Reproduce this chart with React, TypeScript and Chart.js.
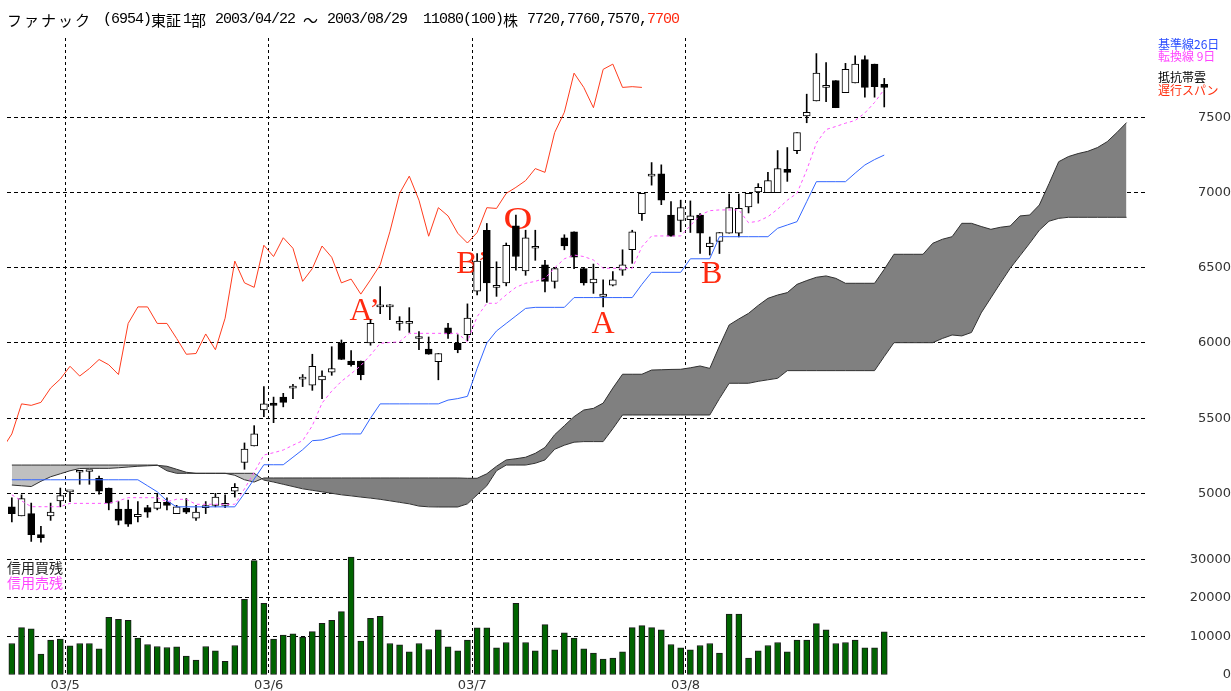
import React, { useEffect, useRef } from 'react';
import { Chart, registerables } from 'chart.js';
Chart.register(...registerables);

// ---- data (index 0 = 2003/04/22 ... index 90 = 2003/08/29) ----
const opens = [4910,4850,4865,4725,4850,4950,5010,5140,5145,5100,5035,4895,4895,4845,4905,4900,4940,4865,4900,4835,4905,4920,4920,5015,5205,5315,5555,5600,5640,5700,5760,5720,5755,5805,6000,5880,5880,6000,6240,6240,6130,6130,6030,5960,5875,6100,6000,6055,6345,6750,6370,6400,6780,6480,6630,6520,6410,6700,6740,6495,6400,6310,6385,6485,6620,6860,7110,7125,6850,6815,6820,6850,6640,6675,6730,6730,6905,7005,7000,7000,7155,7280,7510,7610,7700,7745,7665,7730,7885,7855,7720];
const highs = [4970,4990,4935,4780,4935,5035,5010,5150,5145,5115,5035,4945,4955,4945,4920,5000,4970,4920,4965,4920,4945,5000,4990,5065,5335,5450,5710,5640,5665,5725,5790,5925,5815,5975,6020,5950,5880,6155,6375,6255,6175,6235,6075,6040,5930,6130,6055,6260,6595,6795,6540,6665,6850,6750,6750,6550,6500,6720,6740,6500,6525,6420,6475,6620,6750,6995,7200,7185,6940,6950,6945,6860,6705,6735,6990,6990,6995,7060,7135,7280,7300,7400,7655,7925,7865,7745,7860,7910,7910,7855,7760];
const lows = [4810,4850,4680,4675,4820,4910,4945,5060,5060,4995,4890,4790,4780,4810,4840,4890,4890,4865,4865,4820,4865,4910,4905,4975,5160,5315,5510,5470,5575,5630,5710,5685,5630,5785,5890,5845,5755,5985,6195,6155,6085,6070,5955,5925,5755,6030,5935,6015,6320,6270,6310,6380,6485,6450,6550,6340,6365,6620,6495,6385,6330,6240,6380,6450,6530,6815,7050,6920,6710,6740,6735,6595,6585,6595,6730,6705,6865,6930,7000,7000,7075,7260,7465,7610,7605,7565,7665,7730,7635,7635,7570];
const closes = [4865,4965,4725,4705,4875,4985,5010,5140,5145,5015,4935,4820,4795,4860,4875,4940,4920,4910,4875,4875,4905,4975,4920,5040,5295,5395,5595,5585,5605,5700,5760,5845,5780,5830,5890,5855,5790,6130,6240,6240,6130,6130,6030,5925,5930,6060,5955,6165,6545,6400,6370,6650,6575,6700,6630,6410,6495,6645,6570,6400,6425,6325,6420,6520,6740,6995,7110,6950,6710,6900,6845,6730,6665,6735,6900,6895,6995,7035,7080,7160,7135,7400,7535,7795,7700,7565,7820,7855,7700,7705,7700];
const volumes = [8190,12300,11970,5430,9040,9300,7580,8190,8190,6800,14990,14470,14210,9560,7930,7410,7150,7320,4910,3880,7410,6290,3530,7670,19640,29700,18600,9300,10340,10680,9820,11280,13440,14210,16450,30660,8790,14730,15250,8190,7840,6030,8190,6630,11710,7320,6290,9040,12220,12220,7060,8440,18600,8440,6290,13090,6550,10940,9560,6800,5680,4130,4390,6030,12300,12840,12300,11710,7930,7060,6550,7670,8190,5680,15850,15850,4390,6290,7670,8440,6030,9040,9040,13350,11710,8190,8440,9040,7060,7060,11190];
const kijun = [5090,5090,5090,5090,5090,5090,5090,5090,5090,5090,5090,5090,5090,5090,5050,5010,4950,4910,4910,4910,4910,4910,4910,4910,5000,5095,5190,5190,5190,5240,5290,5350,5355,5375,5395,5395,5395,5500,5595,5595,5595,5595,5595,5595,5595,5620,5630,5645,5830,6000,6080,6130,6180,6230,6237,6237,6237,6237,6302,6302,6302,6302,6302,6302,6302,6390,6470,6470,6470,6470,6560,6560,6560,6707,6707,6707,6707,6707,6707,6763,6785,6807,6940,7073,7073,7073,7073,7130,7184,7220,7250];
const tenkan = [4990,4950,4911,4911,4911,4911,4933,4933,4933,4933,4933,4950,4971,4971,4971,4971,4944,4960,4960,4927,4927,4927,4927,4927,5030,5140,5255,5270,5288,5320,5350,5450,5600,5680,5745,5795,5850,5920,5998,6003,6008,6064,6064,6064,6064,6064,6064,6008,6175,6264,6264,6320,6370,6397,6410,6430,6500,6560,6585,6575,6552,6497,6497,6497,6497,6640,6712,6712,6712,6712,6780,6851,6880,6885,6885,6885,6800,6810,6840,6890,6950,6996,7150,7330,7420,7440,7462,7480,7530,7600,7687];
// leading spans, index 0..115 (plotted 25 days ahead)
const spanA = [5055,5050,5045,5080,5110,5130,5150,5165,5166,5166,5166,5170,5175,5180,5183,5186,5180,5160,5140,5133,5133,5133,5133,5120,5090,5075,5102,5102,5102,5102,5102,5102,5102,5102,5102,5102,5102,5102,5102,5102,5102,5102,5102,5102,5102,5102,5102,5100,5100,5130,5180,5222,5230,5240,5266,5305,5390,5450,5510,5554,5565,5600,5700,5792,5792,5792,5820,5822,5824,5825,5835,5847,5831,5980,6120,6160,6197,6250,6297,6319,6335,6390,6415,6437,6446,6430,6397,6397,6397,6397,6490,6590,6590,6590,6590,6663,6690,6707,6796,6796,6775,6756,6770,6778,6845,6851,6918,7060,7206,7240,7260,7275,7300,7339,7400,7466];
const spanB = [5188,5188,5188,5188,5188,5188,5188,5188,5188,5188,5188,5188,5188,5188,5188,5188,5150,5133,5133,5133,5133,5133,5133,5133,5133,5133,5088,5075,5060,5045,5030,5020,5010,5000,4990,4983,4975,4968,4960,4950,4940,4930,4915,4910,4909,4909,4909,4930,4990,5050,5150,5188,5188,5188,5200,5222,5293,5320,5340,5344,5344,5344,5430,5521,5521,5521,5521,5521,5521,5521,5521,5521,5521,5630,5732,5732,5732,5745,5755,5765,5816,5816,5816,5816,5816,5816,5816,5816,5816,5816,5910,6002,6002,6002,6002,6002,6030,6053,6047,6070,6200,6300,6400,6497,6580,6663,6750,6810,6829,6836,6836,6836,6836,6836,6836,6836];
const CHIKOU_SHIFT = 25;
const monthTicks = [5.5, 26.5, 47.5, 69.5];
const monthLabels = ['03/5', '03/6', '03/7', '03/8'];
const priceTicks = [5000, 5500, 6000, 6500, 7000, 7500];
const volTicks = [0, 10000, 20000, 30000];
const marks = [
  { text: 'A\u2019', i: 36.4, p: 6153, sx: 1 },
  { text: 'B\u2019', i: 47.5, p: 6465, sx: 1 },
  { text: 'O', i: 52.2, p: 6755, sx: 1.25 },
  { text: 'A', i: 61.0, p: 6067, sx: 1 },
  { text: 'B', i: 72.2, p: 6399, sx: 1 },
];

// ---- geometry ----
const X_MIN = -0.5;
const X_MAX = 116.9;
const P_MAX = 8028.7;
const P_MIN = 4622.9;
const V_MAX = 32467;
const AXIS_W = 86;
const LABEL_RIGHT = 1220;
const tickFont = { family: 'DejaVu Sans', size: 13 };

function textWidth(t: string, font: string) {
  const c = document.createElement('canvas').getContext('2d')!;
  c.font = font;
  return c.measureText(t).width;
}

function xScale(showLabels: boolean) {
  return {
    type: 'linear',
    min: X_MIN,
    max: X_MAX,
    offset: false,
    afterBuildTicks: (s: any) => { s.ticks = monthTicks.map((v) => ({ value: v })); },
    grid: { color: '#000', lineWidth: 1, drawTicks: false, offset: false, borderDash: [3, 3] },
    border: { display: false, dash: [3, 3] },
    ticks: {
      display: showLabels,
      autoSkip: false,
      maxRotation: 0,
      padding: 3,
      color: '#333',
      font: tickFont,
      callback: (v: number) => monthLabels[monthTicks.indexOf(v)] ?? '',
    },
    afterFit: (s: any) => { s.height = showLabels ? 16 : 0; s.paddingLeft = 0; s.paddingRight = 0; },
  };
}

const markPlugin = {
  id: 'marks',
  beforeDatasetsDraw(chart: any) {
    const { ctx, scales } = chart;
    ctx.save();
    ctx.fillStyle = '#ff2a10';
    ctx.font = '32px "Liberation Serif"';
    ctx.textAlign = 'center';
    ctx.textBaseline = 'alphabetic';
    for (const m of marks) {
      const px = scales.x.getPixelForValue(m.i);
      const py = scales.y.getPixelForValue(m.p);
      ctx.save();
      ctx.translate(px, py);
      ctx.scale(m.sx, 1);
      ctx.fillText(m.text, 0, 0);
      ctx.restore();
    }
    ctx.restore();
  },
};

export default function App() {
  const mainRef = useRef<HTMLCanvasElement>(null);
  const volRef = useRef<HTMLCanvasElement>(null);

  useEffect(() => {
    const fontStr = `${tickFont.size}px ${tickFont.family}`;
    const priceW = textWidth('7500', fontStr);
    const volW = textWidth('30000', fontStr);
    const idx = closes.map((_, i) => i);

    const main = new Chart(mainRef.current!, {
      type: 'bar',
      data: {
        datasets: [
          {
            type: 'line', label: 'spanA', order: 20,
            data: spanA.map((v, i) => ({ x: i, y: v })),
            borderColor: '#303030', borderWidth: 1, pointRadius: 0,
            fill: { target: 1, above: '#808080', below: '#c0c0c0' },
          },
          {
            type: 'line', label: 'spanB', order: 19,
            data: spanB.map((v, i) => ({ x: i, y: v })),
            borderColor: '#303030', borderWidth: 1, pointRadius: 0, fill: false,
          },
          {
            type: 'bar', label: 'wick', order: 10, grouped: false,
            data: idx.map((i) => ({ x: i, y: [lows[i], highs[i]] })),
            backgroundColor: '#000', borderWidth: 0, barThickness: 1,
          },
          {
            type: 'bar', label: 'body', order: 9, grouped: false,
            data: idx.map((i) => ({ x: i, y: [Math.min(opens[i], closes[i]), Math.max(opens[i], closes[i])] })),
            backgroundColor: idx.map((i) => (closes[i] >= opens[i] ? '#ffffff' : '#000000')),
            borderColor: '#000', borderWidth: 1, borderSkipped: false, barThickness: 7, minBarLength: 2,
          },
          {
            type: 'line', label: 'kijun', order: 5,
            data: kijun.map((v, i) => ({ x: i, y: v })),
            borderColor: '#3366ff', borderWidth: 1, pointRadius: 0, fill: false,
          },
          {
            type: 'line', label: 'tenkan', order: 4,
            data: tenkan.map((v, i) => ({ x: i, y: v })),
            borderColor: '#ff55ff', borderWidth: 1, borderDash: [3, 3], pointRadius: 0, fill: false,
          },
          {
            type: 'line', label: 'chikou', order: 3,
            data: closes.slice(CHIKOU_SHIFT - 1).map((v, k) => ({ x: k - 1, y: v })),
            borderColor: '#ff3c1e', borderWidth: 1, pointRadius: 0, fill: false,
          },
        ],
      } as any,
      options: {
        responsive: false,
        animation: false,
        events: [],
        layout: { padding: { left: 7, top: 38, right: 0, bottom: 0 } },
        plugins: { legend: { display: false }, tooltip: { enabled: false }, title: { display: false } },
        scales: {
          x: xScale(false) as any,
          y: {
            type: 'linear', position: 'right', min: P_MIN, max: P_MAX,
            afterBuildTicks: (s: any) => { s.ticks = priceTicks.map((v) => ({ value: v })); },
            grid: { color: '#000', drawTicks: false, borderDash: [4, 3] },
            border: { display: false, dash: [4, 3] },
            ticks: { color: '#333', font: tickFont, crossAlign: 'far', padding: LABEL_RIGHT - (1231 - AXIS_W) - priceW, callback: (v: number) => String(v) },
            afterFit: (s: any) => { s.width = AXIS_W; s.paddingTop = 0; s.paddingBottom = 0; },
          } as any,
        },
      },
      plugins: [markPlugin],
    });

    const vol = new Chart(volRef.current!, {
      type: 'bar',
      data: {
        datasets: [
          {
            label: 'volume', grouped: false,
            data: volumes.map((v, i) => ({ x: i, y: v })),
            backgroundColor: '#006400', borderColor: '#1a1a1a', borderWidth: 1, borderSkipped: false, barThickness: 6,
          },
        ],
      } as any,
      options: {
        responsive: false,
        animation: false,
        events: [],
        layout: { padding: { left: 7, top: 0, right: 0, bottom: 0 } },
        plugins: { legend: { display: false }, tooltip: { enabled: false } },
        scales: {
          x: xScale(true) as any,
          y: {
            type: 'linear', position: 'right', min: 0, max: V_MAX,
            afterBuildTicks: (s: any) => { s.ticks = volTicks.map((v) => ({ value: v })); },
            grid: { color: (c: any) => (c.tick && c.tick.value === 0 ? 'rgba(0,0,0,0)' : '#000'), drawTicks: false, borderDash: [4, 3] },
            border: { display: false, dash: [4, 3] },
            ticks: { color: '#333', font: tickFont, crossAlign: 'far', padding: LABEL_RIGHT - (1231 - AXIS_W) - volW, callback: (v: number) => String(v) },
            afterFit: (s: any) => { s.width = AXIS_W; s.paddingTop = 0; s.paddingBottom = 0; },
          } as any,
        },
      },
    });

    return () => { main.destroy(); vol.destroy(); };
  }, []);

  const mono: React.CSSProperties = { position: 'absolute', top: 11, font: '15px "Liberation Mono"', letterSpacing: '-1px', lineHeight: '18px', color: '#000', whiteSpace: 'pre' };
  const cjk: React.CSSProperties = { position: 'absolute', top: 11, font: '15px "Noto Sans CJK JP"', lineHeight: '18px', color: '#000', whiteSpace: 'pre' };
  const legend: React.CSSProperties = { position: 'absolute', left: 1158, font: '12px "Noto Sans CJK JP"', lineHeight: '14px', whiteSpace: 'pre' };
  const side: React.CSSProperties = { position: 'absolute', left: 7, font: '14px "Noto Sans CJK JP"', lineHeight: '16px', whiteSpace: 'pre' };

  return (
    <div style={{ position: 'absolute', left: 0, top: 0, width: 1231, height: 691, background: '#fff', overflow: 'hidden' }}>
      <canvas ref={mainRef} width={1231} height={550} style={{ position: 'absolute', left: 0, top: 0 }} />
      <canvas ref={volRef} width={1231} height={141} style={{ position: 'absolute', left: 0, top: 550 }} />
      <span style={{ ...cjk, left: 7, letterSpacing: '2px' }}>ファナック</span>
      <span style={{ ...mono, left: 103 }}>(6954)</span>
      <span style={{ ...cjk, left: 151 }}>東証</span>
      <span style={{ ...mono, left: 183 }}>1</span>
      <span style={{ ...cjk, left: 191 }}>部</span>
      <span style={{ ...mono, left: 215 }}>2003/04/22</span>
      <span style={{ ...cjk, left: 303 }}>～</span>
      <span style={{ ...mono, left: 327 }}>2003/08/29</span>
      <span style={{ ...mono, left: 423 }}>11080(100)</span>
      <span style={{ ...cjk, left: 503 }}>株</span>
      <span style={{ ...mono, left: 527 }}>7720,7760,7570,</span>
      <span style={{ ...mono, left: 647, color: '#ff2a10' }}>7700</span>
      <span style={{ ...legend, top: 37, color: '#2a4cff' }}>基準線26日</span>
      <span style={{ ...legend, top: 49, color: '#ff44ff' }}>転換線 9日</span>
      <span style={{ ...legend, top: 70, color: '#000' }}>抵抗帯雲</span>
      <span style={{ ...legend, top: 83, color: '#ff3010' }}>遅行スパン</span>
      <span style={{ ...side, top: 559, color: '#222' }}>信用買残</span>
      <span style={{ ...side, top: 574, color: '#ff44ff' }}>信用売残</span>
    </div>
  );
}
